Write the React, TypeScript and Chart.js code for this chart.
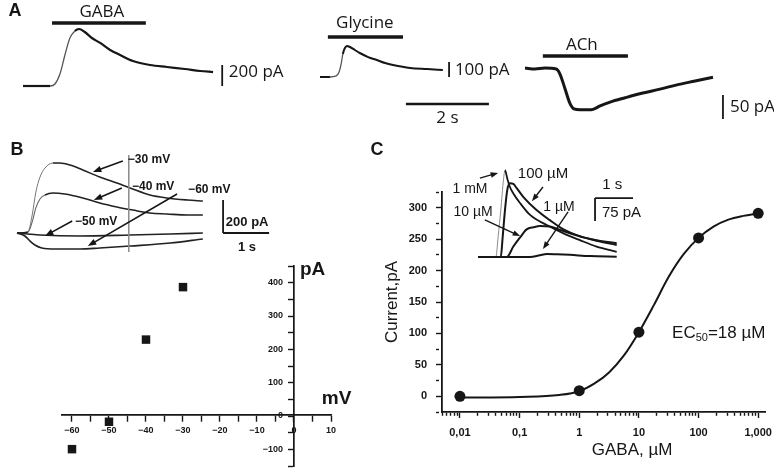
import React, { useEffect, useRef } from "react";
import { Chart, registerables } from "chart.js";
Chart.register(...registerables);

const W = 774;
const H = 470;
const SANS = '"Liberation Sans", Arial, sans-serif';
const OPEN = '"Open Sans", "Liberation Sans", sans-serif';
const INK = "#161616";

// ---------- Panel A: GABA / Glycine / ACh responses (s, pA) ----------
const gabaTime = [0, 0.65, 0.77, 0.89, 1.01, 1.13, 1.25, 1.35, 1.49, 1.66, 1.86, 2.1, 2.34, 2.65, 3.06, 3.47, 3.9, 4.27, 4.58];
const gabaCurrent = [0, 0, 19, 114, 295, 457, 524, 543, 514, 457, 410, 343, 295, 238, 200, 181, 162, 143, 133];

const glyTime = [0, 0.24, 0.39, 0.46, 0.51, 0.55, 0.6, 0.65, 0.72, 0.84, 0.96, 1.16, 1.37, 1.57, 1.76, 2.17, 2.58, 2.96];
const glyCurrent = [0, 0, 7, 33, 87, 153, 193, 207, 200, 180, 160, 133, 113, 93, 80, 60, 53, 47];

const achTime = [0, 0.24, 0.48, 0.75, 0.84, 0.96, 1.08, 1.18, 1.33, 1.52, 1.64, 1.81, 2.05, 2.41, 2.84, 3.25, 3.66, 4.1, 4.53];
const achCurrent = [2, 0, 2, 0, -10, -40, -71, -83, -85, -85, -84, -77, -69, -60, -50, -42, -33, -25, -17];

// ---------- Panel B: traces at holding potentials (s, pA) ----------
const bTime30 = [0, 0.17, 0.24, 0.33, 0.41, 0.5, 0.61, 0.78, 0.93, 1.15, 1.43, 1.8, 2.17, 2.46, 2.89, 3.26, 3.7, 4.04];
const bI30 = [0, 0, 6, 109, 248, 339, 394, 424, 424, 412, 382, 339, 303, 273, 230, 212, 200, 194];
const bTime40 = [0, 0.24, 0.33, 0.41, 0.5, 0.61, 0.78, 1.04, 1.43, 1.8, 2.17, 2.52, 2.89, 3.26, 3.7, 4.04];
const bI40 = [0, 6, 67, 152, 206, 230, 242, 236, 212, 182, 158, 139, 121, 115, 109, 109];
const bTime50 = [0, 0.24, 0.5, 1.37, 2.46, 3.33, 4.04];
const bI50 = [0, -6, -12, -18, -12, -6, 0];
const bTime60 = [0, 0.17, 0.28, 0.39, 0.54, 0.83, 1.37, 1.8, 2.46, 3.33, 4.04];
const bI60 = [0, -18, -48, -73, -91, -97, -97, -91, -79, -61, -36];

// ---------- Panel B: I–V relation ----------
const ivVoltage = [-60, -50, -40, -30];
const ivCurrent = [-105, -22, 227, 386];

// ---------- Panel C: dose–response ----------
const doseConc = [0.01, 1, 10, 100, 1000];
const doseCurrent = [0, 9, 102, 252, 291];
const fitConc = [0.01, 0.1, 0.46, 1, 1.78, 3.16, 5.62, 10, 17.8, 31.6, 56.2, 100, 178, 316, 562, 1000];
const fitCurrent = [-2, -1, 2, 8, 20, 38, 65, 102, 145, 190, 226, 252, 270, 281, 287, 291];
const doseTickValues = [0.01, 0.1, 1, 10, 100, 1000];
const doseTickLabels = ["0,01", "0,1", "1", "10", "100", "1,000"];

// ---------- Panel C inset traces (s, pA) ----------
const ins1mMTime = [0, 0.47, 0.53, 0.6, 0.67, 0.71, 0.77, 0.84, 0.93, 1.11, 1.37, 1.81, 2.25, 2.68, 3.12, 3.65];
const ins1mM = [0, 0, 66, 153, 251, 283, 256, 228, 207, 175, 137, 104, 77, 55, 34, 17];
const ins100Time = [0, 0.6, 0.65, 0.71, 0.77, 0.84, 0.93, 1.02, 1.19, 1.54, 1.89, 2.25, 2.68, 3.12, 3.65];
const ins100 = [0, 0, 66, 153, 218, 240, 238, 224, 196, 153, 120, 90, 68, 53, 39];
const ins10Time = [0, 0.76, 0.93, 1.11, 1.28, 1.46, 1.63, 1.89, 2.16, 2.42, 2.77, 3.12, 3.65];
const ins10 = [0, 0, 34, 64, 90, 97, 101, 99, 88, 77, 64, 55, 45];
const ins1Time = [0, 1.37, 1.63, 1.81, 2.07, 2.42, 2.94, 3.65];
const ins1 = [0, 0, 6, 10, 9, 7, 3, 1];

type Part = { text: string; font: string; dy?: number };
type Note = { x: number; y: number; text?: string; font?: string; align?: CanvasTextAlign; parts?: Part[] };
type Arrow = { x1: number; y1: number; x2: number; y2: number; width?: number; head?: number };

function notesPlugin(notes: Note[], arrows: Arrow[] = []) {
  return {
    id: "notes",
    afterDatasetsDraw(chart: any) {
      const { ctx } = chart;
      const sx = chart.scales.x;
      const sy = chart.scales.y;
      ctx.save();
      ctx.fillStyle = INK;
      ctx.strokeStyle = INK;
      for (const a of arrows) {
        const x1 = sx.getPixelForValue(a.x1), y1 = sy.getPixelForValue(a.y1);
        const x2 = sx.getPixelForValue(a.x2), y2 = sy.getPixelForValue(a.y2);
        const ang = Math.atan2(y2 - y1, x2 - x1);
        const hl = a.head ?? 9;
        ctx.lineWidth = a.width ?? 1.6;
        ctx.beginPath();
        ctx.moveTo(x1, y1);
        ctx.lineTo(x2 - Math.cos(ang) * hl * 0.7, y2 - Math.sin(ang) * hl * 0.7);
        ctx.stroke();
        ctx.beginPath();
        ctx.moveTo(x2, y2);
        ctx.lineTo(x2 - hl * Math.cos(ang - 0.36), y2 - hl * Math.sin(ang - 0.36));
        ctx.lineTo(x2 - hl * Math.cos(ang + 0.36), y2 - hl * Math.sin(ang + 0.36));
        ctx.closePath();
        ctx.fill();
      }
      ctx.textBaseline = "middle";
      for (const n of notes) {
        const px = sx.getPixelForValue(n.x), py = sy.getPixelForValue(n.y);
        if (n.parts) {
          let cx = px;
          ctx.textAlign = "left";
          for (const p of n.parts) {
            ctx.font = p.font;
            ctx.fillText(p.text, cx, py + (p.dy ?? 0));
            cx += ctx.measureText(p.text).width;
          }
        } else {
          ctx.font = n.font!;
          ctx.textAlign = n.align ?? "center";
          ctx.fillText(n.text!, px, py);
        }
      }
      ctx.restore();
    },
  };
}

function lineDs(xs: number[], ys: number[], width = 2, color = INK, extra: any = {}) {
  return {
    data: xs.map((x, i) => ({ x, y: ys[i] })),
    showLine: true,
    borderColor: color,
    backgroundColor: color,
    borderWidth: width,
    pointRadius: 0,
    cubicInterpolationMode: "monotone",
    borderCapStyle: "butt",
    fill: false,
    ...extra,
  };
}

// page-pixel origin + pixels-per-unit -> axis range of a full-page overlay
function rangeX(origin: number, ppu: number): [number, number] {
  return [-origin / ppu, (W - origin) / ppu];
}
function rangeY(origin: number, ppu: number): [number, number] {
  return [-(H - origin) / ppu, origin / ppu];
}

function overlay(xr: [number, number], yr: [number, number], datasets: any[], plugin: any) {
  return {
    type: "scatter",
    data: { datasets },
    options: {
      animation: false,
      responsive: false,
      events: [],
      layout: { padding: 0 },
      scales: {
        x: { type: "linear", display: false, min: xr[0], max: xr[1] },
        y: { type: "linear", display: false, min: yr[0], max: yr[1] },
      },
      plugins: { legend: { display: false }, tooltip: { enabled: false } },
    },
    plugins: [plugin],
  };
}

const minus = (v: number) => (v < 0 ? "\u2212" + Math.abs(v) : String(v));
const seg = (from: number, to: number, color: string, width: number) => ({
  borderColor: (c: any) => (c.p0DataIndex >= from && c.p0DataIndex < to ? color : undefined),
  borderWidth: (c: any) => (c.p0DataIndex >= from && c.p0DataIndex < to ? width : undefined),
});

function buildConfigs(): any[] {
  const A17 = `17px ${OPEN}`;
  const B12 = `bold 12px ${SANS}`;
  const LET = `bold 18px ${SANS}`;

  const gaba = overlay(
    rangeX(23, 41.5),
    rangeY(86, 0.105),
    [
      lineDs(gabaTime, gabaCurrent, 2.2, INK, { segment: seg(1, 6, "#555", 1.3) }),
      lineDs([0.7, 2.96], [600, 600], 3.5),
      lineDs([4.8, 4.8], [0, 200], 1.8),
    ],
    notesPlugin([
      { x: -0.19, y: 714, text: "A", font: LET },
      { x: 1.9, y: 705, text: "GABA", font: A17 },
      { x: 4.96, y: 133, text: "200 pA", font: A17, align: "left" },
    ])
  );

  const gly = overlay(
    rangeX(320, 41.5),
    rangeY(77, 0.15),
    [
      lineDs(glyTime, glyCurrent, 2, INK, { segment: seg(1, 5, "#555", 1.3) }),
      lineDs([0.19, 2.0], [267, 267], 3.5),
      lineDs([3.11, 3.11], [0, 100], 1.8),
      lineDs([2.07, 4.07], [-180, -180], 2.5),
    ],
    notesPlugin([
      { x: 1.08, y: 360, text: "Glycine", font: A17 },
      { x: 3.25, y: 47, text: "100 pA", font: A17, align: "left" },
      { x: 3.07, y: -273, text: "2 s", font: A17 },
    ])
  );

  const ach = overlay(
    rangeX(525, 41.5),
    rangeY(69, 0.48),
    [
      lineDs(achTime, achCurrent, 3),
      lineDs([0.43, 2.48], [27, 27], 3.5),
      lineDs([4.77, 4.77], [-54, -104], 1.8),
    ],
    notesPlugin([
      { x: 1.37, y: 50, text: "ACh", font: A17 },
      { x: 4.94, y: -79, text: "50 pA", font: A17, align: "left" },
    ])
  );

  const bTraces = overlay(
    rangeX(17, 46),
    rangeY(233, 0.165),
    [
      lineDs([2.43, 2.43], [473, -115], 1.5, "#8a8a8a"),
      lineDs(bTime50, bI50, 1.6, "#222"),
      lineDs(bTime60, bI60, 1.6, "#222"),
      lineDs(bTime40, bI40, 1.6, "#222", { segment: seg(1, 5, "#666", 1.1) }),
      lineDs(bTime30, bI30, 1.6, "#222", { segment: seg(1, 7, "#777", 1.0) }),
      lineDs([4.48, 4.48], [200, 0], 1.8),
      lineDs([4.48, 5.48], [0, 0], 1.8),
    ],
    notesPlugin(
      [
        { x: 0, y: 503, text: "B", font: LET },
        { x: 2.41, y: 442, text: "\u221230 mV", font: B12, align: "left" },
        { x: 2.5, y: 279, text: "\u221240 mV", font: B12, align: "left" },
        { x: 3.72, y: 261, text: "\u221260 mV", font: B12, align: "left" },
        { x: 1.26, y: 67, text: "\u221250 mV", font: B12, align: "left" },
        { x: 4.54, y: 67, text: "200 pA", font: `bold 13px ${SANS}`, align: "left" },
        { x: 5.0, y: -85, text: "1 s", font: `bold 13px ${SANS}` },
      ],
      [
        { x1: 2.3, y1: 436, x2: 1.65, y2: 370 },
        { x1: 2.28, y1: 273, x2: 1.67, y2: 200 },
        { x1: 1.2, y1: 73, x2: 0.61, y2: -18 },
        { x1: 3.48, y1: 236, x2: 1.54, y2: -79 },
      ]
    )
  );

  // I–V plot: x axis crosses at I = 0; the current axis is drawn by a companion chart at V = 0
  const tickFont9 = { size: 9, weight: "bold" as const, family: SANS };
  const IV_X = { min: -62.7, max: 10 };
  const IV_Y = { min: -150, max: 450 };
  const ivPad = { left: 62, right: W - 331, top: 266, bottom: 4 };
  const iv = {
    type: "scatter",
    data: {
      datasets: [
        {
          data: ivVoltage.map((v, i) => ({ x: v, y: ivCurrent[i] })),
          pointStyle: "rect",
          pointRadius: 6,
          backgroundColor: INK,
          borderColor: INK,
          borderWidth: 0,
          showLine: false,
        },
      ],
    },
    options: {
      animation: false,
      responsive: false,
      events: [],
      layout: { padding: ivPad },
      scales: {
        x: {
          type: "linear",
          position: { y: 0 },
          ...IV_X,
          afterFit: (s: any) => {
            s.height = 0;
            s.paddingLeft = 0;
            s.paddingRight = 0;
          },
          ticks: {
            stepSize: 5,
            includeBounds: false,
            autoSkip: false,
            maxRotation: 0,
            padding: 5,
            color: INK,
            font: tickFont9,
            callback: (v: number) => (v % 10 === 0 ? minus(v) : ""),
          },
          grid: { drawOnChartArea: false, drawTicks: true, tickLength: 6, tickColor: INK, tickWidth: 1.4 },
          border: { display: true, color: INK, width: 1.7 },
        },
        y: { type: "linear", display: false, ...IV_Y },
      },
      plugins: { legend: { display: false }, tooltip: { enabled: false } },
    },
    plugins: [
      notesPlugin([
        { x: 1.6, y: 439, text: "pA", font: `bold 19px ${SANS}`, align: "left" },
        { x: 7.5, y: 47, text: "mV", font: `bold 19px ${SANS}`, align: "left" },
      ]),
    ],
  };

  // companion chart: the current axis, whose chart area starts at V = 0
  const zeroPx = 62 + ((0 - IV_X.min) / (IV_X.max - IV_X.min)) * (331 - 62);
  const IV_YW = 40;
  const ivAxis = {
    type: "scatter",
    data: { datasets: [] },
    options: {
      animation: false,
      responsive: false,
      events: [],
      layout: { padding: { left: zeroPx - IV_YW, right: W - 331, top: ivPad.top, bottom: ivPad.bottom } },
      scales: {
        x: { type: "linear", display: false, min: 0, max: IV_X.max },
        y: {
          type: "linear",
          position: "left",
          ...IV_Y,
          afterFit: (s: any) => {
            s.width = IV_YW;
            s.paddingTop = 0;
            s.paddingBottom = 0;
          },
          ticks: {
            stepSize: 50,
            includeBounds: false,
            autoSkip: false,
            padding: 5,
            color: INK,
            font: tickFont9,
            callback: (v: number) => (v % 100 === 0 ? minus(v) : ""),
          },
          grid: { drawOnChartArea: false, drawTicks: true, tickLength: 6, tickColor: INK, tickWidth: 1.4 },
          border: { display: true, color: INK, width: 1.7 },
        },
      },
      plugins: { legend: { display: false }, tooltip: { enabled: false } },
    },
  };

  const isDecade = (v: number) => Math.abs(Math.log10(v) - Math.round(Math.log10(v))) < 1e-6;
  const tickFont11 = { size: 11, weight: "bold" as const, family: SANS };
  const dose = {
    type: "scatter",
    data: {
      datasets: [
        lineDs(fitConc, fitCurrent, 2),
        {
          data: doseConc.map((c, i) => ({ x: c, y: doseCurrent[i] })),
          pointRadius: 5.5,
          backgroundColor: INK,
          borderColor: INK,
          borderWidth: 0,
          showLine: false,
        },
      ],
    },
    options: {
      animation: false,
      responsive: false,
      events: [],
      layout: { padding: { left: 382, right: 9, top: 192, bottom: 0 } },
      scales: {
        x: {
          type: "logarithmic",
          min: 0.005,
          max: 1300,
          bounds: "data",
          afterFit: (s: any) => {
            s.height = 58;
            s.paddingLeft = 0;
            s.paddingRight = 0;
          },
          afterBuildTicks: (s: any) => {
            const ticks: any[] = [];
            for (let e = -3; e <= 3; e++) {
              for (let k = 1; k <= 9; k++) {
                const v = Number((k * Math.pow(10, e)).toPrecision(6));
                if (v >= s.min && v <= s.max) ticks.push({ value: v });
              }
            }
            s.ticks = ticks;
          },
          ticks: {
            autoSkip: false,
            maxRotation: 0,
            padding: 8,
            color: INK,
            font: tickFont11,
            callback: (v: number) => {
              const i = doseTickValues.findIndex((t) => Math.abs(t - v) < t * 1e-6);
              return i >= 0 ? doseTickLabels[i] : "";
            },
          },
          grid: {
            drawOnChartArea: false,
            drawTicks: true,
            tickLength: 6,
            tickColor: INK,
            tickWidth: 1.4,
            tickBorderDash: (c: any) => (c.tick && isDecade(c.tick.value) ? [] : [3, 20]),
          },
          border: { display: true, color: INK, width: 1.8 },
        },
        y: {
          type: "linear",
          min: -25,
          max: 325,
          afterFit: (s: any) => {
            s.width = 60;
            s.paddingTop = 0;
            s.paddingBottom = 0;
          },
          ticks: {
            stepSize: 25,
            includeBounds: false,
            autoSkip: false,
            padding: 9,
            color: INK,
            font: tickFont11,
            callback: (v: number) => (v % 50 === 0 && v >= 0 ? String(v) : ""),
          },
          grid: {
            drawOnChartArea: false,
            drawTicks: true,
            tickLength: 6,
            tickColor: INK,
            tickWidth: 1.4,
            tickBorderDash: (c: any) => (c.tick && c.tick.value % 50 === 0 ? [] : [3, 20]),
          },
          border: { display: true, color: INK, width: 1.8 },
          title: {
            display: true,
            text: "Current,pA",
            color: INK,
            font: { size: 17, family: SANS },
            padding: { top: 0, bottom: 0 },
          },
        },
      },
      plugins: { legend: { display: false }, tooltip: { enabled: false } },
    },
    plugins: [
      notesPlugin([
        { x: 7.7, y: -86, text: "GABA, \u00b5M", font: `17px ${SANS}` },
        {
          x: 36,
          y: 100,
          parts: [
            { text: "EC", font: `17px ${SANS}` },
            { text: "50", font: `11px ${SANS}`, dy: 5 },
            { text: "=18 \u00b5M", font: `17px ${SANS}` },
          ],
        },
      ]),
    ],
  };

  const F14 = `14px ${SANS}`;
  const F15 = `15px ${SANS}`;
  const inset = overlay(
    rangeX(478, 38),
    rangeY(257, 0.307),
    [
      lineDs(ins1Time, ins1, 2),
      lineDs(ins10Time, ins10, 2),
      lineDs(ins100Time, ins100, 2),
      lineDs(ins1mMTime, ins1mM, 1.8, INK, { segment: seg(1, 5, "#8a8a8a", 1) }),
      lineDs([3.08, 4.08], [192, 192], 1.8),
      lineDs([3.08, 3.08], [192, 117], 1.8),
    ],
    notesPlugin(
      [
        { x: -2.66, y: 349, text: "C", font: LET },
        { x: -0.21, y: 221, text: "1 mM", font: F14 },
        { x: 1.71, y: 270, text: "100 \u00b5M", font: F15 },
        { x: -0.13, y: 147, text: "10 \u00b5M", font: F14 },
        { x: 2.13, y: 163, text: "1 \u00b5M", font: F14 },
        { x: 3.53, y: 235, text: "1 s", font: F15 },
        { x: 3.26, y: 143, text: "75 pA", font: F15, align: "left" },
      ],
      [
        { x1: 0.05, y1: 257, x2: 0.53, y2: 274, width: 1.4, head: 8 },
        { x1: 1.71, y1: 228, x2: 1.42, y2: 182, width: 1.4, head: 8 },
        { x1: 0.18, y1: 121, x2: 1.11, y2: 68, width: 1.4, head: 8 },
        { x1: 2.37, y1: 147, x2: 1.71, y2: 26, width: 1.4, head: 8 },
      ]
    )
  );

  return [gaba, gly, ach, bTraces, ivAxis, iv, dose, inset];
}

export default function App() {
  const refs = useRef<(HTMLCanvasElement | null)[]>([]);
  useEffect(() => {
    Chart.defaults.font.family = SANS;
    Chart.defaults.color = INK;
    const configs = buildConfigs();
    const charts = configs.map((cfg, i) => new Chart(refs.current[i] as HTMLCanvasElement, cfg));
    return () => charts.forEach((c) => c.destroy());
  }, []);
  return (
    <div style={{ position: "fixed", left: 0, top: 0, width: W, height: H, background: "#fff" }}>
      {Array.from({ length: 8 }).map((_, i) => (
        <canvas
          key={i}
          ref={(el) => {
            refs.current[i] = el;
          }}
          width={W}
          height={H}
          style={{ position: "absolute", left: 0, top: 0, width: W, height: H }}
        />
      ))}
    </div>
  );
}
